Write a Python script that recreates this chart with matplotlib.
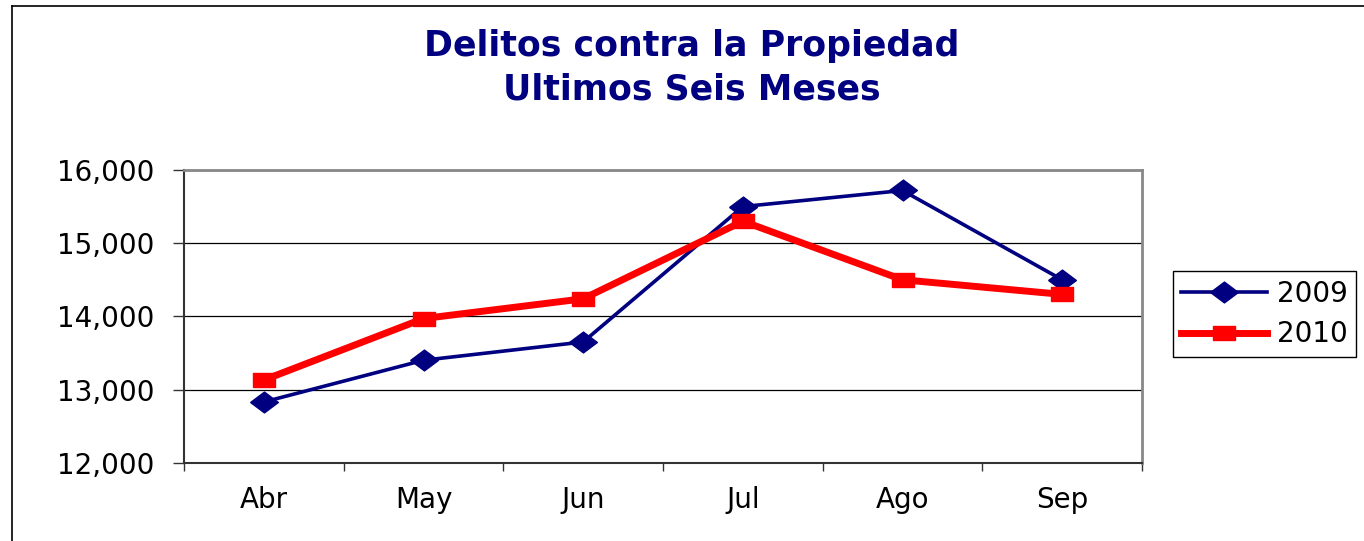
import numpy as np
import matplotlib
matplotlib.use("Agg")
import matplotlib.pyplot as plt
from matplotlib.lines import Line2D

plt.rcParams['font.family'] = ['DejaVu Sans']

# datos
meses = ["Abr", "May", "Jun", "Jul", "Ago", "Sep"]
v2009 = [12830, 13400, 13650, 15500, 15720, 14500]
v2010 = [13130, 13970, 14240, 15300, 14500, 14300]
yticks = [12000, 13000, 14000, 15000, 16000]

W, H = 1364, 541
fig = plt.figure(figsize=(W / 100, H / 100), dpi=100)
ax = fig.add_axes([184 / W, 1 - 462.7 / H, (1142 - 184) / W, (462.7 - 170) / H])

rombo = [(-1, 0), (0, 0.75), (1, 0), (0, -0.75), (-1, 0)]
cuadro = [(-1, -0.65), (1, -0.65), (1, 0.65), (-1, 0.65), (-1, -0.65)]

x = np.arange(len(meses)) + 0.5
ax.plot(x, v2009, color="#000080", lw=2.6, marker=rombo, ms=20, label="2009", zorder=3)
ax.plot(x, v2010, color="#FF0000", lw=5, marker=cuadro, ms=16, label="2010", zorder=4)

ax.set_xlim(0, len(meses))
ax.set_ylim(12000, 16000)
ax.set_yticks(yticks)
ax.set_yticklabels(["{:,}".format(v) for v in yticks])
ax.grid(axis="y", color="black", lw=0.9)
ax.set_axisbelow(True)

ax.set_xticks(np.arange(len(meses) + 1))
ax.set_xticklabels([])
ax.set_xticks(x, minor=True)
ax.set_xticklabels(meses, minor=True)
ax.tick_params(axis="x", which="major", direction="out", length=6, width=1, color="#333333")
ax.tick_params(axis="x", which="minor", length=0, pad=17, labelsize=20)
ax.tick_params(axis="y", direction="out", length=8, width=1, color="#333333", pad=13, labelsize=20)

for s in ["top", "right"]:
    ax.spines[s].set_color("#888888")
    ax.spines[s].set_linewidth(2)
for s in ["left", "bottom"]:
    ax.spines[s].set_color("#333333")
    ax.spines[s].set_linewidth(1.5)

fig.text(692 / W, 1 - 46 / H, "Delitos contra la Propiedad", ha="center", va="center",
         fontsize=25, fontweight="bold", color="#000080")
fig.text(692 / W, 1 - 89 / H, "Ultimos Seis Meses", ha="center", va="center",
         fontsize=25, fontweight="bold", color="#000080")

leg = fig.legend(loc="center left", bbox_to_anchor=(1173 / W, 1 - 314 / H), fontsize=20,
                 handlelength=3.1, handletextpad=0.35, borderpad=0.3, labelspacing=0.45,
                 borderaxespad=0, fancybox=False, edgecolor="black", framealpha=1)
leg.get_frame().set_linewidth(1)

# marco exterior
xf, yf = 12 / W, 1 - 6 / H
fig.add_artist(Line2D([xf, xf], [0, yf], color="black", lw=1.2))
fig.add_artist(Line2D([xf, 1], [yf, yf], color="black", lw=1.2))

fig.savefig("out.png", dpi=100)
